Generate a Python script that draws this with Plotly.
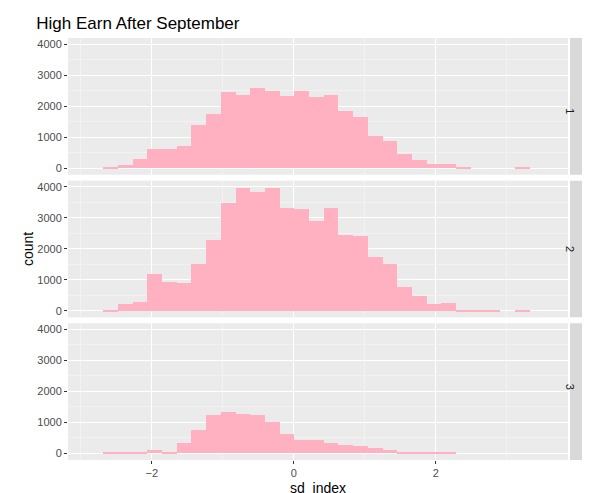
import plotly.graph_objects as go
from plotly.subplots import make_subplots

# histogram: 30 bins of width ~0.207 starting at -2.684
bin_start = -2.684
bin_width = 0.207
bin_centers = [round(bin_start + bin_width * (i + 0.5), 3) for i in range(30)]

counts_1 = [10, 110, 300, 600, 600, 700, 1380, 1740, 2460, 2360,
            2590, 2490, 2330, 2490, 2290, 2360, 1840, 1640, 1050, 860,
            470, 270, 140, 140, 10, 0, 0, 0, 10, 0]
counts_2 = [50, 220, 280, 1200, 930, 900, 1520, 2300, 3480, 3970,
            3840, 3970, 3320, 3280, 2920, 3320, 2470, 2430, 1750, 1520,
            770, 480, 220, 250, 20, 20, 20, 0, 20, 0]
counts_3 = [10, 5, 10, 110, 40, 340, 760, 1220, 1320, 1250,
            1220, 990, 630, 430, 430, 340, 270, 240, 170, 110,
            40, 40, 10, 10, 0, 0, 0, 0, 0, 0]
panels = ['1', '2', '3']
y_ticks = [0, 1000, 2000, 3000, 4000]
x_ticks = [-2, 0, 2]

fig = make_subplots(rows=3, cols=1, shared_xaxes=True, vertical_spacing=0.014)

for row, counts in enumerate([counts_1, counts_2, counts_3], start=1):
    fig.add_trace(go.Bar(
        x=bin_centers, y=counts, width=bin_width,
        marker=dict(color='#FFB1C2', line=dict(width=0)),
        showlegend=False,
    ), row=row, col=1)

axis_common = dict(
    showgrid=True, gridcolor='white', gridwidth=1.2,
    minor=dict(showgrid=True, gridcolor='#F2F2F2', gridwidth=0.6),
    zeroline=False, ticklen=3, tickcolor='#333333', automargin=False,
    tickfont=dict(size=11, color='#4D4D4D'),
)

for row in range(1, 4):
    fig.update_yaxes(range=[-215, 4200], tickvals=y_ticks, ticks='outside',
                     minor_dtick=500, row=row, col=1, **axis_common)
    fig.update_xaxes(range=[-3.18, 3.86], tickvals=x_ticks, minor_dtick=1,
                     ticks='outside' if row == 3 else '',
                     showticklabels=(row == 3), row=row, col=1, **axis_common)

fig.update_xaxes(title=dict(text='sd_index', font=dict(size=14, color='black'),
                            standoff=4), row=3, col=1)

# facet strips on the right
shapes = []
annotations = []
for row, label in enumerate(panels, start=1):
    yax = fig.layout['yaxis' if row == 1 else f'yaxis{row}']
    y0, y1 = yax.domain
    shapes.append(dict(type='rect', xref='paper', yref='paper',
                       x0=1.004, x1=1.036, y0=y0, y1=y1,
                       fillcolor='#D9D9D9', line=dict(width=0)))
    annotations.append(dict(text=label, xref='paper', yref='paper',
                            x=1.02, y=(y0 + y1) / 2, showarrow=False,
                            textangle=90, font=dict(size=11, color='#1A1A1A')))

annotations.append(dict(text='count', xref='paper', yref='paper',
                        x=-0.1, y=0.5, showarrow=False, textangle=-90,
                        font=dict(size=14, color='black')))

fig.update_layout(
    width=590, height=493,
    margin=dict(l=60, r=30, t=30, b=41),
    plot_bgcolor='#EBEBEB', paper_bgcolor='white',
    bargap=0,
    font=dict(family='Liberation Sans, Arial, sans-serif'),
    title=dict(text='High Earn After September', x=0.048, y=0.97,
               xanchor='left', yanchor='middle',
               font=dict(size=17, color='black')),
    shapes=shapes, annotations=annotations,
)

fig.write_html('out.html')
